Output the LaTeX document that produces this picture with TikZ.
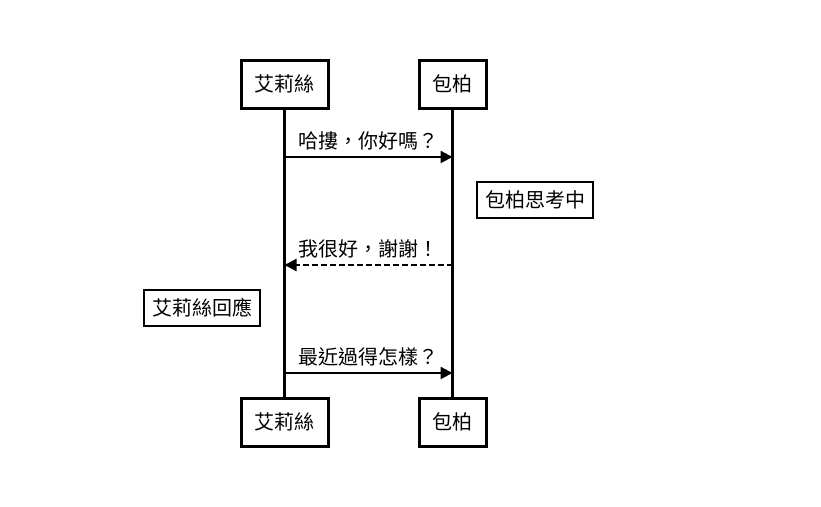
\documentclass[tikz,border=0pt]{standalone}
\usepackage{fontspec}
\setmainfont{Noto Sans CJK TC}
\usetikzlibrary{arrows.meta}
\begin{document}
\begin{tikzpicture}[x=1pt,y=-1pt,>={Triangle[length=12pt,width=12pt]},line width=2.2pt]
  \tikzstyle{actor}=[draw, line width=3pt, fill=white, minimum height=48pt, inner xsep=13.5pt,
    font=\fontsize{20}{24}\selectfont]
  \tikzstyle{note}=[draw, line width=2.5pt, fill=white, minimum height=36pt, inner xsep=8pt,
    font=\fontsize{20}{24}\selectfont]
  \tikzstyle{msg}=[midway, above=2pt, font=\fontsize{20}{24}\selectfont]

  \useasboundingbox (0,0) rectangle (821,506);

  \node[actor] (aliceTop) at (284.5,84) {艾莉絲};
  \node[actor] (bobTop) at (452.5,84) {包柏};
  \node[actor] (aliceBot) at (284.5,422) {艾莉絲};
  \node[actor] (bobBot) at (452.5,422) {包柏};

  \draw (aliceTop) -- (aliceBot);
  \draw (bobTop) -- (bobBot);

  \node[note] (bobNote) at (535,200) {包柏思考中};
  \node[note] (aliceNote) at (202,308) {艾莉絲回應};

  \coordinate (hello1) at (aliceTop |- 0,157);
  \coordinate (hello2) at (bobTop |- 0,157);
  \coordinate (reply1) at (aliceTop |- 0,265);
  \coordinate (reply2) at (bobTop |- 0,265);
  \coordinate (ask1) at (aliceTop |- 0,373);
  \coordinate (ask2) at (bobTop |- 0,373);

  \draw[->] (hello1) -- (hello2) node[msg] {哈摟，你好嗎？};
  \draw[->, dash pattern=on 6pt off 3pt] (reply2) -- (reply1) node[msg] {我很好，謝謝！};
  \draw[->] (ask1) -- (ask2) node[msg] {最近過得怎樣？};
\end{tikzpicture}
\end{document}
